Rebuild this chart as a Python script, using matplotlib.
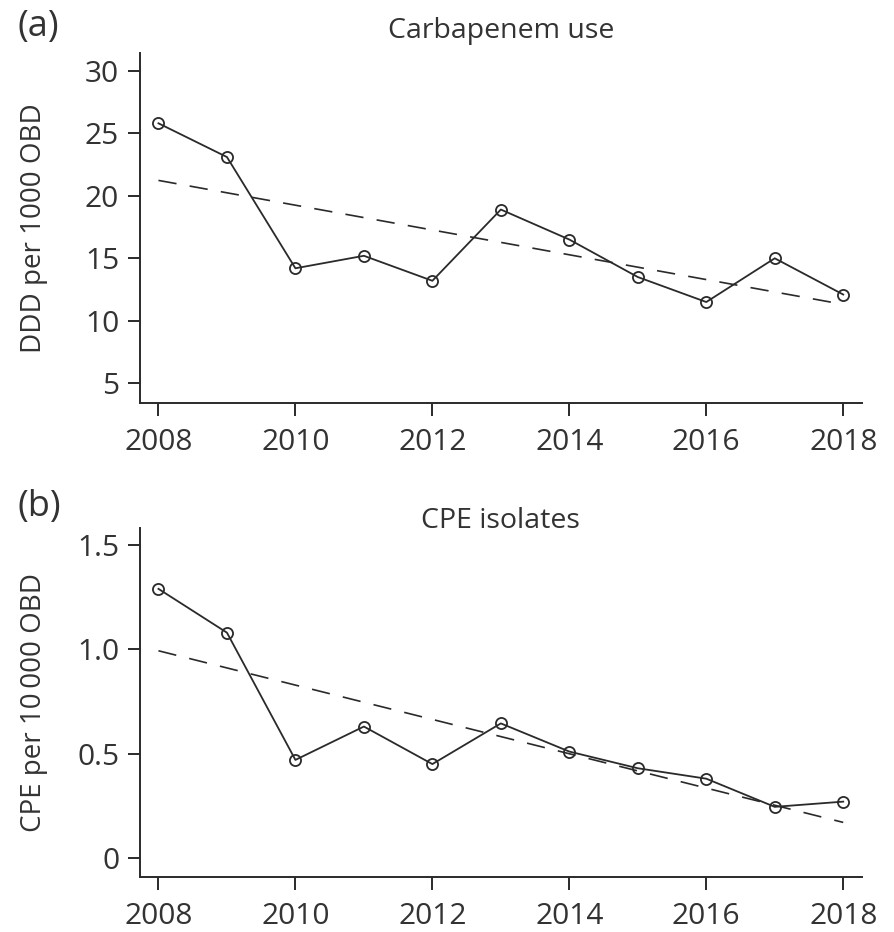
import numpy as np
import matplotlib
matplotlib.use("Agg")
import matplotlib.pyplot as plt

plt.rcParams['font.family'] = ['Open Sans', 'DejaVu Sans']

years = [2008, 2009, 2010, 2011, 2012, 2013, 2014, 2015, 2016, 2017, 2018]
carbapenem_use = [25.8, 23.1, 14.2, 15.2, 13.2, 18.9, 16.5, 13.5, 11.5, 15.0, 12.1]
cpe_isolates = [1.29, 1.08, 0.47, 0.63, 0.45, 0.645, 0.51, 0.43, 0.38, 0.245, 0.27]

xticks = [2008, 2010, 2012, 2014, 2016, 2018]
yticks_a = [5, 10, 15, 20, 25, 30]
yticks_b = [0, 0.5, 1.0, 1.5]
yticklabels_b = ['0', '0.5', '1.0', '1.5']

titles = ['Carbapenem use', 'CPE isolates']
panel_labels = ['(a)', '(b)']
ylabels = ['DDD per 1000 OBD', 'CPE per 10\u2009000 OBD']

TXT = '#333333'
LN = '#2a2a2a'

fig = plt.figure(figsize=(8.95, 9.32), dpi=100)
ax_a = fig.add_axes([0.1564, 0.5673, 0.8064, 0.3755])
ax_b = fig.add_axes([0.1564, 0.0593, 0.8064, 0.3738])

def style(ax, ylim, yt, ytl, ylabel):
    ax.set_xlim(2007.73, 2018.27)
    ax.set_ylim(*ylim)
    for s in ['top', 'right']:
        ax.spines[s].set_visible(False)
    for s in ['left', 'bottom']:
        ax.spines[s].set_linewidth(1.4)
        ax.spines[s].set_color(LN)
    ax.set_xticks(xticks)
    ax.set_xticklabels([str(t) for t in xticks])
    ax.set_yticks(yt)
    ax.set_yticklabels(ytl)
    ax.tick_params(axis='both', direction='out', length=9, width=1.4, color=LN,
                   labelsize=21.5, labelcolor=TXT)
    ax.tick_params(axis='x', pad=9)
    ax.tick_params(axis='y', pad=6)
    ax.set_ylabel(ylabel, fontsize=20, color=TXT)
    ax.yaxis.set_label_coords(-0.128, 0.5)

def draw(ax, vals):
    x = np.array(years, dtype=float)
    y = np.array(vals, dtype=float)
    slope, intercept = np.polyfit(x, y, 1)
    ax.plot(x, slope * x + intercept, color=LN, lw=1.2, dashes=(11, 8))
    ax.plot(x, y, color=LN, lw=1.3, marker='o', markersize=8,
            markerfacecolor='none', markeredgecolor=LN, markeredgewidth=1.3)

draw(ax_a, carbapenem_use)
style(ax_a, (3.4, 31.4), yticks_a, [str(t) for t in yticks_a], ylabels[0])
draw(ax_b, cpe_isolates)
style(ax_b, (-0.09, 1.58), yticks_b, yticklabels_b, ylabels[1])

cx = 0.1564 + 0.8064 / 2
fig.text(cx, 1 - 38 / 932, titles[0], fontsize=20.5, color=TXT, ha='center', va='baseline')
fig.text(cx, 1 - 528 / 932, titles[1], fontsize=20.5, color=TXT, ha='center', va='baseline')

fig.text(0.02, 0.971, panel_labels[0], fontsize=26, color=TXT, va='center', ha='left')
fig.text(0.02, 0.456, panel_labels[1], fontsize=26, color=TXT, va='center', ha='left')

fig.savefig('out.png', dpi=100)
